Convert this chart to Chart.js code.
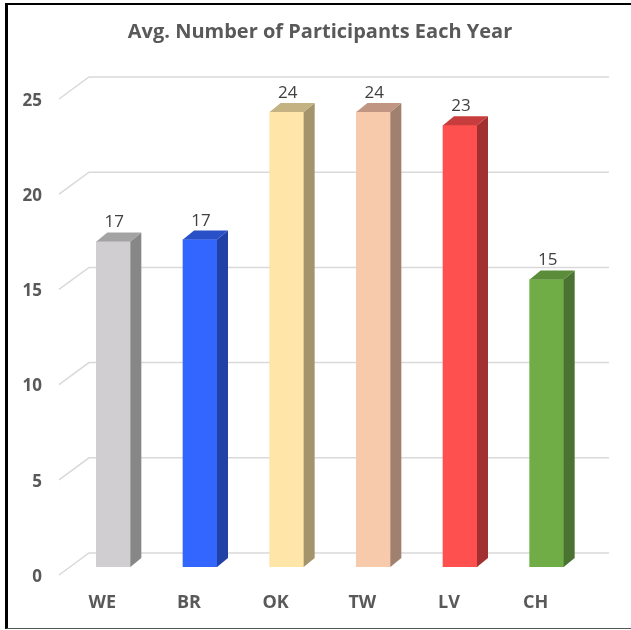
<!DOCTYPE html>
<html>
<head>
<meta charset="utf-8">
<script src="https://cdn.jsdelivr.net/npm/chart.js@4"></script>
<style>
    html, body { margin: 0; padding: 0; background: #fff; overflow: hidden; }
    #wrap { position: relative; width: 631px; height: 630px; }
    #frame {
        position: absolute; left: 5px; top: 3px; width: 640px; height: 623px;
        border-top: 2px solid #000; border-left: 3px solid #000; border-bottom: 1px solid #555;
        pointer-events: none;
    }
</style>
</head>
<body>
<div id="wrap">
    <canvas id="participantsChart" width="631" height="630"></canvas>
    <div id="frame"></div>
</div>
<script>
// Datos del grafico
const categories = ['WE', 'BR', 'OK', 'TW', 'LV', 'CH'];
const avgParticipants = [17.1, 17.2, 23.9, 23.9, 23.2, 15.1];
const yTicks = [0, 5, 10, 15, 20, 25];

// Colores: cara frontal, lateral y superior de cada barra
const frontColors = ['#D0CED0', '#3366FF', '#FFE5A8', '#F7CAAC', '#FF5050', '#70AD47'];
const sideColors  = ['#878787', '#2141A6', '#A3946C', '#A0806E', '#A33030', '#4A7230'];
const topColors   = ['#A3A3A3', '#2A50C8', '#C4B283', '#C09682', '#C73C3C', '#5B8C3A'];

// Profundidad del efecto 3D (px)
const DEPTH_X = 11, DEPTH_Y = 9;      // fondo de la barra
const WALL_X = 19, WALL_Y = 14;       // pared del fondo
const FRONT_X = -11, FRONT_Y = 8;     // plano frontal (etiquetas)

const gridPlugin = {
    id: 'grid3d',
    beforeDatasetsDraw(chart) {
        const ctx = chart.ctx;
        const yScale = chart.scales.y;
        const area = chart.chartArea;
        ctx.save();
        ctx.strokeStyle = '#D9D9D9';
        ctx.lineWidth = 1.5;
        yTicks.forEach(v => {
            const py = yScale.getPixelForValue(v);
            ctx.beginPath();
            ctx.moveTo(area.left + FRONT_X, py + FRONT_Y);
            ctx.lineTo(area.left + WALL_X, py - WALL_Y);
            ctx.lineTo(area.right + WALL_X, py - WALL_Y);
            ctx.stroke();
        });
        ctx.restore();
    }
};

const barsPlugin = {
    id: 'bars3d',
    afterDatasetsDraw(chart) {
        const ctx = chart.ctx;
        const meta = chart.getDatasetMeta(0);
        ctx.save();
        meta.data.forEach((bar, i) => {
            const p = bar.getProps(['x', 'y', 'base', 'width'], true);
            const left = p.x - p.width / 2;
            const right = p.x + p.width / 2;

            // cara lateral
            ctx.fillStyle = sideColors[i];
            ctx.beginPath();
            ctx.moveTo(right, p.y);
            ctx.lineTo(right + DEPTH_X, p.y - DEPTH_Y);
            ctx.lineTo(right + DEPTH_X, p.base - DEPTH_Y);
            ctx.lineTo(right, p.base);
            ctx.closePath();
            ctx.fill();

            // cara superior
            ctx.fillStyle = topColors[i];
            ctx.beginPath();
            ctx.moveTo(left, p.y);
            ctx.lineTo(left + DEPTH_X, p.y - DEPTH_Y);
            ctx.lineTo(right + DEPTH_X, p.y - DEPTH_Y);
            ctx.lineTo(right, p.y);
            ctx.closePath();
            ctx.fill();

            // etiqueta de valor
            ctx.fillStyle = '#404040';
            ctx.font = '17px "Open Sans"';
            ctx.textAlign = 'center';
            ctx.textBaseline = 'alphabetic';
            ctx.fillText(Math.round(avgParticipants[i]).toString(), p.x + 1, p.y - 14);
        });
        ctx.restore();
    }
};

const ctx = document.getElementById('participantsChart').getContext('2d');

new Chart(ctx, {
    type: 'bar',
    data: {
        labels: categories,
        datasets: [{
            data: avgParticipants,
            backgroundColor: frontColors,
            borderWidth: 0,
            barThickness: 34
        }]
    },
    options: {
        responsive: false,
        animation: false,
        layout: { padding: { left: 9, right: 0, top: 0, bottom: 0 } },
        plugins: {
            legend: { display: false },
            tooltip: { enabled: false },
            title: {
                display: true,
                text: 'Avg. Number of Participants Each Year',
                color: '#595959',
                font: { family: '"Open Sans"', size: 20, weight: 'bold' },
                padding: { top: 20, bottom: 47 }
            }
        },
        scales: {
            x: {
                grid: { display: false, drawTicks: false },
                border: { display: false },
                ticks: {
                    color: '#595959',
                    font: { family: '"Open Sans"', size: 18, weight: 'bold' },
                    padding: 25,
                    labelOffset: FRONT_X
                },
                afterFit(scale) { scale.height = 63; }
            },
            y: {
                min: 0,
                max: 25,
                grid: { display: false, drawTicks: false },
                border: { display: false },
                ticks: {
                    stepSize: 5,
                    color: '#595959',
                    font: { family: '"Open Sans"', size: 17, weight: 'bold' },
                    padding: 28,
                    labelOffset: FRONT_Y + 2
                },
                afterFit(scale) { scale.width = 61; }
            },
            yRight: {
                position: 'right',
                display: true,
                grid: { display: false, drawTicks: false },
                border: { display: false },
                ticks: { display: false },
                afterFit(scale) { scale.width = 41; }
            }
        }
    },
    plugins: [gridPlugin, barsPlugin]
});
</script>
</body>
</html>
